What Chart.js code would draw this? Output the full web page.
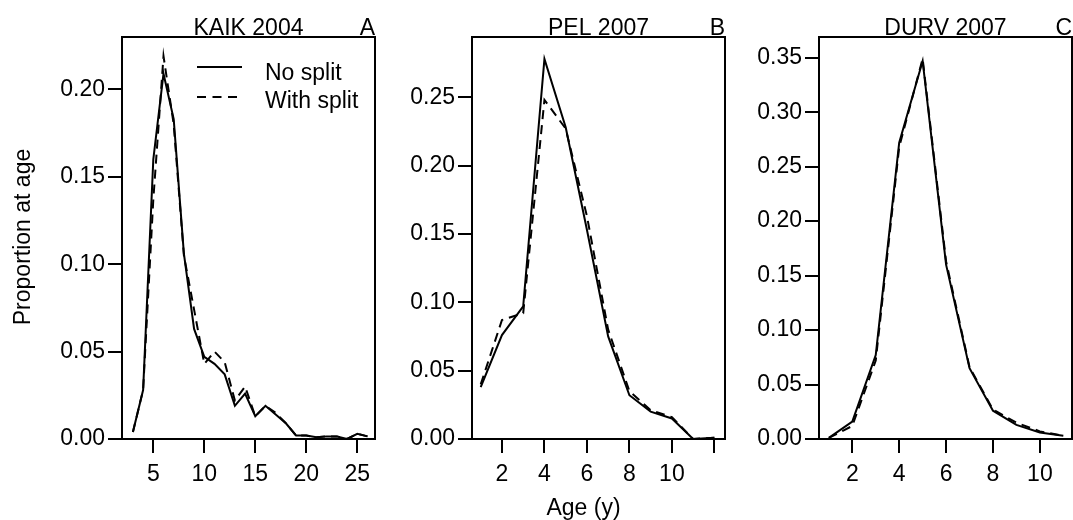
<!DOCTYPE html>
<html>
<head>
<meta charset="utf-8">
<script src="https://cdn.jsdelivr.net/npm/chart.js@4.4.0/dist/chart.umd.min.js"></script>
<style>
html,body{margin:0;padding:0;background:#fff;}
#wrap{position:relative;width:1073px;height:520px;overflow:hidden;background:#fff;}
.pane{position:absolute;top:0;height:520px;}
canvas{display:block;}
</style>
</head>
<body>
<div id="wrap">
  <div class="pane" style="left:0;width:380px"><canvas id="cA" width="380" height="520"></canvas></div>
  <div class="pane" style="left:380px;width:350px"><canvas id="cB" width="350" height="520"></canvas></div>
  <div class="pane" style="left:730px;width:343px"><canvas id="cC" width="343" height="520"></canvas></div>
</div>
<script>
// ---------- DATA ----------
const agesA = [3,4,5,6,7,8,9,10,11,12,13,14,15,16,17,18,19,20,21,22,23,24,25,26];
const noSplitA = [0.004,0.028,0.160,0.209,0.183,0.106,0.063,0.047,0.043,0.037,0.019,0.026,0.013,0.019,0.014,0.009,0.002,0.002,0.001,0.0015,0.0015,0.000,0.003,0.0015];
const withSplitA = [0.004,0.028,0.137,0.219,0.180,0.105,0.074,0.043,0.050,0.044,0.022,0.030,0.013,0.019,0.015,0.009,0.002,0.002,0.001,0.0015,0.0015,0.000,0.003,0.0015];

const agesB = [1,2,3,4,5,6,7,8,9,10,11,12];
const noSplitB = [0.038,0.076,0.097,0.278,0.228,0.153,0.075,0.032,0.020,0.015,0.000,0.001];
const withSplitB = [0.040,0.087,0.092,0.248,0.227,0.163,0.080,0.035,0.021,0.016,0.000,0.001];

const agesC = [1,2,3,4,5,6,7,8,9,10,11];
const noSplitC = [0.001,0.016,0.077,0.272,0.347,0.160,0.065,0.026,0.013,0.006,0.003];
const withSplitC = [0.001,0.012,0.072,0.268,0.349,0.163,0.066,0.027,0.015,0.007,0.003];

const xTicksA = [5,10,15,20,25];
const xLabelsA = ['5','10','15','20','25'];
const xTicksB = [2,4,6,8,10,12];
const xLabelsB = ['2','4','6','8','10',''];
const xTicksC = [2,4,6,8,10];
const xLabelsC = ['2','4','6','8','10'];
const yTicksA = [0,0.05,0.10,0.15,0.20];
const yTicksB = [0,0.05,0.10,0.15,0.20,0.25];
const yTicksC = [0,0.05,0.10,0.15,0.20,0.25,0.30,0.35];

const seriesNames = ['No split','With split'];
const panelTitles = ['KAIK 2004','PEL 2007','DURV 2007'];
const panelLetters = ['A','B','C'];
const yAxisTitle = 'Proportion at age';
const xAxisTitle = 'Age (y)';

// ---------- STYLE ----------
const FONT_FAMILY = "'Liberation Sans', Arial, Helvetica, sans-serif";
const FONT_SIZE = 23;
const FONT = FONT_SIZE + 'px ' + FONT_FAMILY;
const DASH = [9, 6];

const panelDeco = {
  id: 'panelDeco',
  afterDraw(chart, args, o) {
    const ctx = chart.ctx, a = chart.chartArea;
    ctx.save();
    ctx.strokeStyle = '#000';
    ctx.lineWidth = 2;
    ctx.setLineDash([]);
    ctx.strokeRect(a.left, a.top, a.right - a.left, a.bottom - a.top);
    ctx.fillStyle = '#000';
    ctx.font = FONT;
    ctx.textBaseline = 'alphabetic';
    ctx.textAlign = 'center';
    ctx.fillText(o.title, (a.left + a.right) / 2, a.top - 2);
    ctx.textAlign = 'right';
    ctx.fillText(o.letter, a.right, a.top - 2);
    if (o.legend) {
      const L = o.legend;
      ctx.lineWidth = 2;
      ctx.setLineDash([]);
      ctx.beginPath(); ctx.moveTo(L.x1, L.y1); ctx.lineTo(L.x2, L.y1); ctx.stroke();
      ctx.setLineDash([9, 6.5]);
      ctx.beginPath(); ctx.moveTo(L.x1, L.y2); ctx.lineTo(L.x2, L.y2); ctx.stroke();
      ctx.setLineDash([]);
      ctx.textAlign = 'left';
      ctx.fillText(seriesNames[0], L.tx, L.b1);
      ctx.fillText(seriesNames[1], L.tx, L.b2);
    }
    if (o.yTitle) {
      ctx.save();
      ctx.translate(o.yTitle.x, o.yTitle.y);
      ctx.rotate(-Math.PI / 2);
      ctx.textAlign = 'center';
      ctx.fillText(yAxisTitle, 0, 0);
      ctx.restore();
    }
    if (o.xTitle) {
      ctx.textAlign = 'center';
      ctx.fillText(xAxisTitle, o.xTitle.x, o.xTitle.y);
    }
    ctx.restore();
  }
};

function makePanel(id, ages, solid, dashed, xr, yr, xt, xl, yt, yAxisW, rightPad, deco) {
  new Chart(document.getElementById(id), {
    type: 'line',
    data: {
      datasets: [
        { label: seriesNames[0], data: ages.map((x, i) => ({x: x, y: solid[i]})),
          borderColor: '#000', borderWidth: 2, pointRadius: 0, tension: 0, fill: false },
        { label: seriesNames[1], data: ages.map((x, i) => ({x: x, y: dashed[i]})),
          borderColor: '#000', borderWidth: 2, borderDash: DASH, pointRadius: 0, tension: 0, fill: false }
      ]
    },
    options: {
      responsive: false,
      animation: false,
      devicePixelRatio: 1,
      layout: { padding: { top: 37, right: rightPad, bottom: 0, left: 0 } },
      plugins: { legend: { display: false }, tooltip: { enabled: false }, panelDeco: deco },
      scales: {
        x: {
          type: 'linear', min: xr[0], max: xr[1],
          afterBuildTicks: s => { s.ticks = xt.map(v => ({value: v})); },
          afterFit: s => { s.height = 81; },
          grid: { display: true, drawOnChartArea: false, drawTicks: true, tickLength: 14, color: '#000', lineWidth: 2 },
          border: { display: false },
          ticks: { autoSkip: false, maxRotation: 0, minRotation: 0, padding: 8, color: '#000',
                   font: { family: FONT_FAMILY, size: FONT_SIZE },
                   callback: (v, i) => xl[i] }
        },
        y: {
          type: 'linear', min: yr[0], max: yr[1],
          afterBuildTicks: s => { s.ticks = yt.map(v => ({value: v})); },
          afterFit: s => { s.width = yAxisW; },
          grid: { display: true, drawOnChartArea: false, drawTicks: true, tickLength: 14, color: '#000', lineWidth: 2 },
          border: { display: false },
          ticks: { autoSkip: false, padding: 3, color: '#000',
                   font: { family: FONT_FAMILY, size: FONT_SIZE },
                   callback: (v, i) => yt[i].toFixed(2) }
        }
      }
    },
    plugins: [panelDeco]
  });
}

makePanel('cA', agesA, noSplitA, withSplitA, [1.93, 26.74], [0, 0.23], xTicksA, xLabelsA, yTicksA, 122, 5,
  { title: panelTitles[0], letter: panelLetters[0],
    legend: { x1: 197, x2: 242, y1: 67, y2: 97, tx: 265, b1: 80, b2: 108 },
    yTitle: { x: 29.5, y: 237 } });
makePanel('cB', agesB, noSplitB, withSplitB, [0.59, 12.5], [0, 0.294], xTicksB, xLabelsB, yTicksB, 92, 5,
  { title: panelTitles[1], letter: panelLetters[1], xTitle: { x: 203.5, y: 515 } });
makePanel('cC', agesC, noSplitC, withSplitC, [0.58, 11.37], [0, 0.369], xTicksC, xLabelsC, yTicksC, 89, 1,
  { title: panelTitles[2], letter: panelLetters[2] });
</script>
</body>
</html>
